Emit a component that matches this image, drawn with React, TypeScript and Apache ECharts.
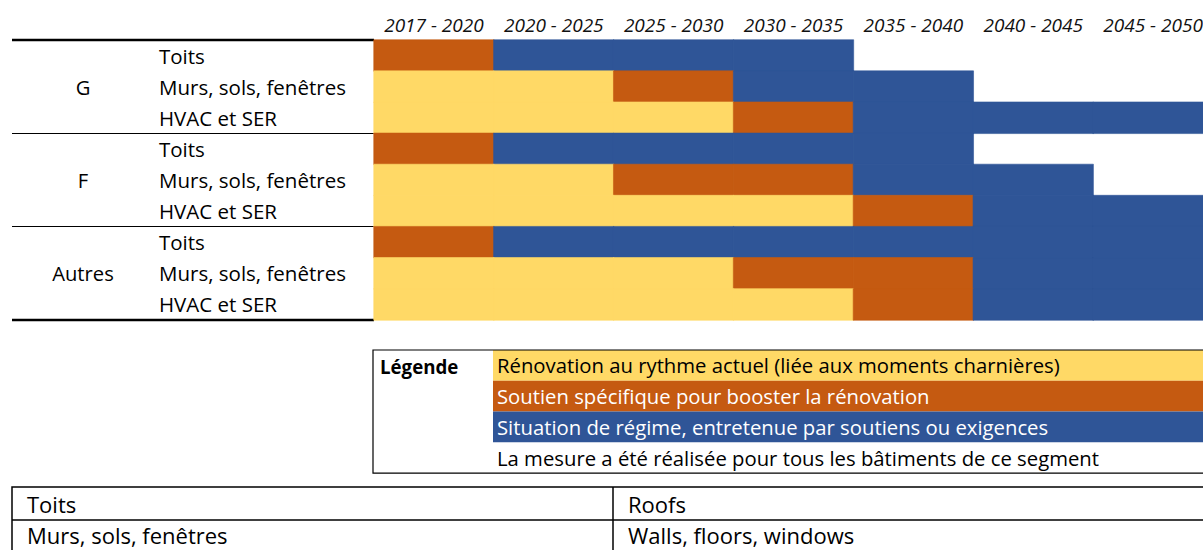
import React, { useEffect, useRef } from "react";
import * as echarts from "echarts";

const periods = ["2017 - 2020", "2020 - 2025", "2025 - 2030", "2030 - 2035", "2035 - 2040", "2040 - 2045", "2045 - 2050"];
const groups = ["G", "F", "Autres"];
const measures = ["Toits", "Murs, sols, fenêtres", "HVAC et SER"];

// 0 = réalisée (blanc), 1 = rythme actuel, 2 = soutien spécifique, 3 = situation de régime
const statesG = [
  [2, 3, 3, 3, 0, 0, 0],
  [1, 1, 2, 3, 3, 0, 0],
  [1, 1, 1, 2, 3, 3, 3],
];
const statesF = [
  [2, 3, 3, 3, 3, 0, 0],
  [1, 1, 2, 2, 3, 3, 0],
  [1, 1, 1, 1, 2, 3, 3],
];
const statesAutres = [
  [2, 3, 3, 3, 3, 3, 3],
  [1, 1, 1, 2, 2, 3, 3],
  [1, 1, 1, 1, 2, 3, 3],
];

const stateColors = ["#ffffff", "#FFD966", "#C55A11", "#2F5597"];
const legendTitle = "Légende";
const legendLabels = [
  "Rénovation au rythme actuel (liée aux moments charnières)",
  "Soutien spécifique pour booster la rénovation",
  "Situation de régime, entretenue par soutiens ou exigences",
  "La mesure a été réalisée pour tous les bâtiments de ce segment",
];
const legendStates = [1, 2, 3, 0];
const legendTextColors = ["#000000", "#ffffff", "#ffffff", "#000000"];

const tableFr = ["Toits", "Murs, sols, fenêtres"];
const tableEn = ["Roofs", "Walls, floors, windows"];

const FONT = "'Open Sans'";

export default function App() {
  const ref = useRef<HTMLDivElement>(null);

  useEffect(() => {
    if (!ref.current) return;
    const chart = echarts.init(ref.current, undefined, { renderer: "svg" });

    const allStates = [statesG, statesF, statesAutres];
    const rowKeys: string[] = [];
    groups.forEach((g) => measures.forEach((m) => rowKeys.push(g + "|" + m)));

    const data: any[] = [];
    allStates.forEach((gs, gi) =>
      gs.forEach((row, mi) =>
        row.forEach((s, xi) => {
          if (s > 0)
            data.push({
              value: [xi, gi * measures.length + mi, s],
              itemStyle: { borderColor: stateColors[s], borderWidth: 0.6 },
            });
        })
      )
    );

    const gridLeft = 374;
    const gridTop = 40;
    const gridW = 839;
    const gridH = 280;

    const graphic: any[] = [];
    graphic.push({ type: "line", shape: { x1: 12, y1: gridTop, x2: gridLeft, y2: gridTop }, style: { stroke: "#000", lineWidth: 2.5 } });
    graphic.push({ type: "line", shape: { x1: 12, y1: gridTop + gridH, x2: gridLeft, y2: gridTop + gridH }, style: { stroke: "#000", lineWidth: 2.5 } });

    // legend box
    const lx = 373, ly = 350, rowH = 30.8, colX = 493;
    legendLabels.forEach((lab, i) => {
      graphic.push({
        type: "rect",
        shape: { x: colX, y: ly + i * rowH, width: 740, height: rowH },
        style: { fill: stateColors[legendStates[i]] },
      });
      graphic.push({
        type: "text",
        x: colX + 4,
        y: ly + i * rowH + rowH / 2,
        style: { text: lab, fill: legendTextColors[i], font: `20.3px ${FONT}`, verticalAlign: "middle" },
      });
    });
    graphic.push({
      type: "rect",
      shape: { x: lx, y: ly, width: 860, height: rowH * 4 },
      style: { fill: "none", stroke: "#000", lineWidth: 1.2 },
    });
    graphic.push({
      type: "text",
      x: 380,
      y: ly + rowH / 2 + 1,
      style: { text: legendTitle, fill: "#000", font: `bold 18.7px ${FONT}`, verticalAlign: "middle" },
    });

    // translation table
    const tTop = 487, tRowH = 33, tMid = 613;
    const tTextY = [504, 535];
    graphic.push({
      type: "rect",
      shape: { x: 12, y: tTop, width: 1230, height: tRowH * 3 },
      style: { fill: "none", stroke: "#000", lineWidth: 1.5 },
    });
    graphic.push({ type: "line", shape: { x1: 12, y1: tTop + tRowH, x2: 1230, y2: tTop + tRowH }, style: { stroke: "#000", lineWidth: 1.5 } });
    graphic.push({ type: "line", shape: { x1: tMid, y1: tTop, x2: tMid, y2: 570 }, style: { stroke: "#000", lineWidth: 1.5 } });
    tableFr.forEach((t, i) => {
      graphic.push({
        type: "text",
        x: 27,
        y: tTextY[i],
        style: { text: t, fill: "#000", font: `22px ${FONT}`, verticalAlign: "middle" },
      });
      graphic.push({
        type: "text",
        x: 628,
        y: tTextY[i],
        style: { text: tableEn[i], fill: "#000", font: `22px ${FONT}`, verticalAlign: "middle" },
      });
    });

    chart.setOption({
      animation: false,
      backgroundColor: "#ffffff",
      textStyle: { fontFamily: FONT },
      grid: { left: gridLeft, top: gridTop, width: gridW, height: gridH, containLabel: false },
      xAxis: {
        type: "category",
        position: "top",
        data: periods,
        axisLine: { show: false },
        axisTick: { show: false },
        splitLine: { show: false },
        axisLabel: { fontStyle: "italic", fontSize: 19, color: "#111", margin: 6, fontFamily: FONT, interval: 0 },
      },
      yAxis: [
        {
          type: "category",
          data: rowKeys,
          inverse: true,
          position: "left",
          axisLine: { show: false },
          axisTick: { show: false },
          splitLine: { show: false },
          axisLabel: {
            interval: 0,
            align: "left",
            margin: gridLeft - 159,
            fontSize: 20.5,
            color: "#000",
            fontFamily: FONT,
            formatter: (v: string) => v.split("|")[1],
          },
        },
        {
          type: "category",
          data: groups,
          inverse: true,
          position: "left",
          axisLine: { show: false },
          axisTick: { show: true, length: gridLeft - 12, lineStyle: { color: "#000", width: 1 } },
          splitLine: { show: false },
          axisLabel: { interval: 0, align: "center", margin: gridLeft - 83, fontSize: 20.2, color: "#000", fontFamily: FONT },
        },
      ],
      visualMap: {
        type: "piecewise",
        show: false,
        dimension: 2,
        pieces: [
          { value: 1, color: stateColors[1] },
          { value: 2, color: stateColors[2] },
          { value: 3, color: stateColors[3] },
        ],
      },
      series: [
        {
          type: "heatmap",
          xAxisIndex: 0,
          yAxisIndex: 0,
          data,
          emphasis: { disabled: true },
        },
      ],
      graphic,
    });

    return () => chart.dispose();
  }, []);

  return (
    <div style={{ position: "absolute", left: 0, top: 0, width: 1203, height: 550, overflow: "hidden" }}>
      <div ref={ref} style={{ position: "absolute", left: 0, top: 0, width: 1240, height: 550 }} />
    </div>
  );
}
